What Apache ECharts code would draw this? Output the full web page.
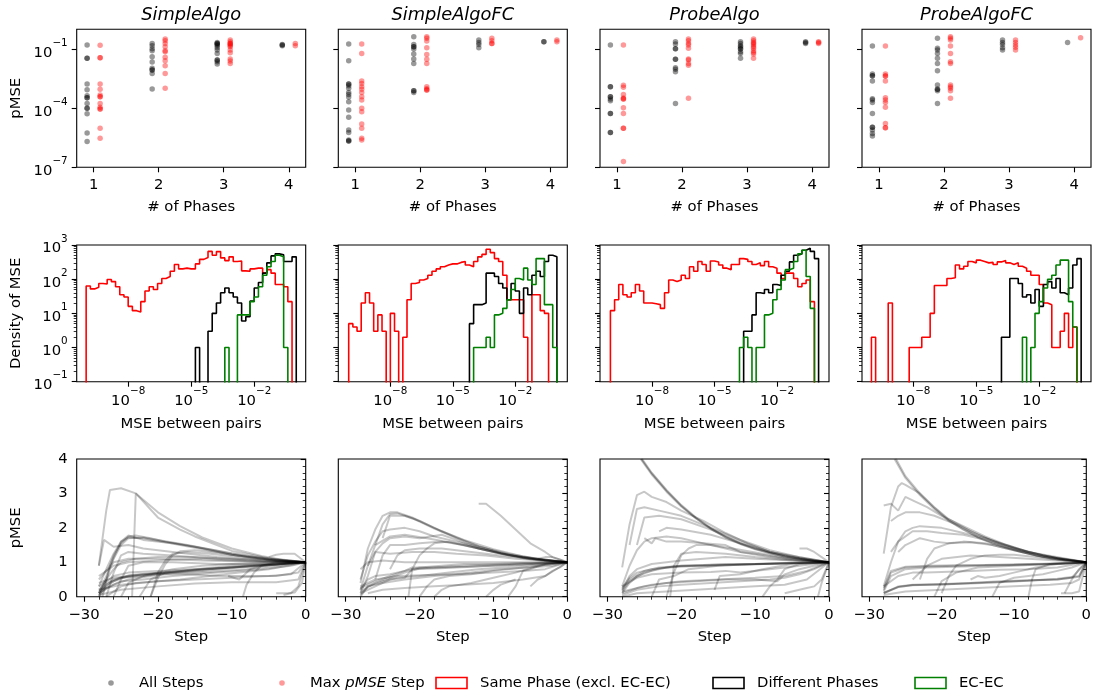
<!DOCTYPE html>
<html><head><meta charset="utf-8">
<script src="https://cdn.jsdelivr.net/npm/echarts@6/dist/echarts.min.js"></script>
<style>html,body{margin:0;padding:0;background:#fff}#c{width:1094px;height:697px}</style>
</head><body><div id="c"></div>
<script>
// ================= DATA =================
const panelNames = ['SimpleAlgo', 'SimpleAlgoFC', 'ProbeAlgo', 'ProbeAlgoFC'];
const phases = [1, 2, 3, 4];
const phaseTickLabels = [1, 2, 3, 4];

// Row 1: log10(pMSE) of points, per phase (1..4)
const allSteps_SimpleAlgo = [
  [-0.76,-1.44,-1.44,-2.75,-3.04,-3.35,-3.45,-3.45,-3.74,-3.99,-3.99,-4.27,-5.25,-5.68],
  [-0.68,-0.80,-0.95,-1.05,-1.36,-1.63,-1.95,-2.04,-2.04,-2.21,-3.01],
  [-0.63,-0.68,-0.68,-0.74,-0.80,-0.90,-1.02,-1.19,-1.53,-1.53,-1.61,-1.73],
  [-0.73,-0.80,-0.76]
];
const maxStep_SimpleAlgo = [
  [-0.78,-1.41,-1.41,-2.75,-3.02,-3.31,-3.40,-3.40,-3.74,-3.94,-4.03,-4.03,-5.01,-5.52],
  [-0.46,-0.54,-0.68,-0.85,-1.05,-1.10,-1.39,-1.56,-1.82,-2.21,-2.97],
  [-0.51,-0.59,-0.68,-0.68,-0.73,-0.80,-0.85,-1.02,-1.15,-1.48,-1.58,-1.70],
  [-0.69,-0.80]
];
const allSteps_SimpleAlgoFC = [
  [-0.71,-1.56,-2.75,-2.75,-2.84,-2.97,-3.18,-3.28,-3.41,-3.65,-4.08,-4.45,-5.10,-5.22,-5.61,-5.66,-5.66],
  [-0.34,-0.73,-0.85,-0.85,-0.97,-1.22,-1.48,-1.70,-3.09,-3.09,-3.18],
  [-0.51,-0.63,-0.73,-0.90],
  [-0.59,-0.59]
];
const maxStep_SimpleAlgoFC = [
  [-0.71,-1.19,-2.60,-2.73,-2.89,-3.02,-3.18,-3.40,-3.57,-3.99,-4.16,-4.79,-5.01,-5.52,-5.61],
  [-0.34,-0.42,-0.56,-0.90,-1.24,-1.49,-1.70,-2.89,-2.99,-3.06,-3.06],
  [-0.42,-0.54,-0.68,-0.68],
  [-0.51,-0.59]
];
const allSteps_ProbeAlgo = [
  [-0.76,-2.89,-2.89,-3.40,-3.40,-3.52,-3.60,-4.25,-4.25,-5.23,-5.23],
  [-0.59,-0.71,-0.95,-0.95,-1.49,-1.49,-1.92,-2.00,-2.12,-3.74],
  [-0.59,-0.68,-0.80,-0.85,-0.95,-0.95,-1.10,-1.19,-1.44],
  [-0.59,-0.68,-0.63]
];
const maxStep_ProbeAlgo = [
  [-0.76,-2.82,-2.92,-3.28,-3.47,-3.52,-3.52,-3.96,-4.25,-5.01,-5.01,-6.71],
  [-0.46,-0.54,-0.68,-0.76,-0.93,-1.48,-1.53,-1.70,-1.80,-3.48],
  [-0.46,-0.54,-0.63,-0.68,-0.76,-0.85,-0.93,-1.05,-1.14,-1.22,-1.44],
  [-0.59,-0.68,-0.63]
];
const allSteps_ProbeAlgoFC = [
  [-0.81,-2.24,-2.33,-2.33,-2.60,-3.50,-3.57,-3.69,-4.25,-4.96,-4.96,-5.10,-5.27,-5.40],
  [-0.42,-0.93,-1.02,-1.19,-1.44,-1.70,-2.07,-2.80,-3.02,-3.02,-3.09,-3.74],
  [-0.51,-0.63,-0.73,-0.90,-1.02],
  [-0.63]
];
const maxStep_ProbeAlgoFC = [
  [-0.81,-2.24,-2.34,-2.34,-2.60,-3.45,-3.57,-3.69,-3.94,-4.76,-4.98,-4.98],
  [-0.34,-0.42,-0.51,-0.81,-1.19,-1.61,-1.70,-2.80,-2.89,-2.97,-3.09,-3.48],
  [-0.51,-0.63,-0.76,-0.88,-1.02],
  [-0.39]
];

// Row 2: histogram densities, 50 log-spaced bins from 1e-10, width 0.2 decade
const binLog10Start = -10;
const binLog10Width = 0.2;
const samePhase_SimpleAlgo = [63,52,58,75,72,98,85,60,35,30, 16,12,11,22,45,60,50,75,105,120,
  170,270,200,210,200,200,280,380,430,650, 500,640,420,350,450,330,340,175,170,200,
  210,210,150,190,150,70,70,60,22,0];
const diffPhase_SimpleAlgo = [0,0,0,0,0,0,0,0,0,0, 0,0,0,0,0,0,0,0,0,0, 0,0,0,0,0,0,1,0,0,3,
  10,20,40,55,40,30,20,6,8,23, 55,80,150,300,480,550,520,330,330,450];
const ecec_SimpleAlgo = [0,0,0,0,0,0,0,0,0,0, 0,0,0,0,0,0,0,0,0,0, 0,0,0,0,0,0,0,0,0,0,
  0,0,0,1,0,0,9,9,9,22, 30,60,130,230,330,500,450,1,0,0];

const samePhase_SimpleAlgoFC = [5,4,3,20,40,20,3,9,3,0, 10,3,0,2,25,75,80,95,105,130,
  170,200,230,260,280,280,310,330,260,230, 330,450,530,750,600,400,330,130,25,25,
  25,25,2,0,35,35,12,10,0,0];
const diffPhase_SimpleAlgoFC = [0,0,0,0,0,0,0,0,0,0, 0,0,0,0,0,0,0,0,0,0, 0,0,0,0,0,0,0,0,0,5,
  18,18,20,150,150,120,75,55,25,75, 45,10,55,35,130,170,120,330,500,450];
const ecec_SimpleAlgoFC = [0,0,0,0,0,0,0,0,0,0, 0,0,0,0,0,0,0,0,0,0, 0,0,0,0,0,0,0,0,0,0,
  1,1,1,2,1,9,10,14,25,50, 105,95,210,95,70,400,400,18,18,1];

const samePhase_ProbeAlgo = [12,25,70,35,30,40,70,45,20,20, 19,18,14,40,95,85,95,130,105,230,
  170,330,270,170,340,320,260,210,190,270, 270,400,380,330,270,300,250,330,230,210,
  150,105,150,150,105,60,75,95,22,0];
const diffPhase_ProbeAlgo = [0,0,0,0,0,0,0,0,0,0, 0,0,0,0,0,0,0,0,0,0, 0,0,0,0,0,0,0,0,0,0,
  0,0,3,3,9,40,38,50,40,70, 65,130,170,320,500,550,700,800,650,400];
const ecec_ProbeAlgo = [0,0,0,0,0,0,0,0,0,0, 0,0,0,0,0,0,0,0,0,0, 0,0,0,0,0,0,0,0,0,0,
  0,1,2,1,0,1,1,9,10,25, 50,95,190,210,330,550,700,120,14,0];

const samePhase_ProbeAlgoFC = [2,0,0,0,20,0,0,0,0,1, 1,1,2,2,10,65,65,65,105,110,
  260,200,240,330,300,360,330,300,310,270, 320,350,300,270,300,240,210,170,130,130,
  70,20,18,1,1,3,10,1,4,0];
const diffPhase_ProbeAlgoFC = [0,0,0,0,0,0,0,0,0,0, 0,0,0,0,0,0,0,0,0,0, 0,0,0,0,0,0,0,0,0,0,
  0,2,2,105,105,75,30,35,20,50, 16,70,85,55,105,40,35,55,260,400];
const ecec_ProbeAlgoFC = [0,0,0,0,0,0,0,0,0,0, 0,0,0,0,0,0,0,0,0,0, 0,0,0,0,0,0,0,0,0,0,
  0,0,0,0,0,0,2,0,1,10, 22,55,100,130,260,360,360,22,4,0];

// Row 3: pMSE trajectories [step, pMSE]
const steps_SimpleAlgo = [
  [[-28,0.9],[-27,2.5],[-26.5,3.1],[-25,3.15],[-23,3.0],[-20,2.45],[-17,2.05],[-14,1.72],[-10,1.4],[-6,1.18],[-3,1.07],[0,1]],
  [[-23.5,0],[-23,3.0],[-20,2.3],[-17,1.95],[-15,1.75],[-10,1.33],[-5,1.12],[0,1]],
  [[-28,0.1],[-27,0.6],[-26,1.2],[-25,1.55],[-24,1.75],[-23,1.78],[-21,1.7],[-19,1.6],[-15,1.45],[-10,1.22],[-5,1.08],[0,1]],
  [[-28,0],[-27,0.5],[-26,1.1],[-25,1.5],[-24,1.7],[-22,1.72],[-20,1.65],[-16,1.5],[-10,1.25],[-5,1.1],[0,1]],
  [[-27.5,0],[-26.5,0.9],[-25,1.6],[-24,1.78],[-22,1.65],[-18,1.55],[-13,1.38],[-8,1.18],[-3,1.05],[0,1]],
  [[-28,0.3],[-27,0.8],[-26,1.25],[-25,1.6],[-24,1.72],[-22,1.7],[-19,1.58],[-15,1.42],[-10,1.22],[-5,1.08],[0,1]],
  [[-28,0.9],[-27.3,1.65],[-26,1.45],[-24,1.5],[-22,1.4],[-18,1.3],[-12,1.15],[-6,1.05],[0,1]],
  [[-21,0],[-20,0.55],[-19,0.95],[-18,1.2],[-17,1.32],[-15,1.35],[-12,1.28],[-8,1.15],[-4,1.05],[0,1]],
  [[-21,0],[-20,0.7],[-19,1.05],[-18,1.25],[-16,1.3],[-13,1.25],[-9,1.15],[-4,1.04],[0,1]],
  [[-27,0],[-26,0.7],[-25,1.2],[-24,1.3],[-22,1.25],[-18,1.2],[-12,1.1],[-6,1.03],[0,1]],
  [[-28,0.5],[-26,1.0],[-24,1.1],[-20,1.1],[-14,1.05],[-8,1.02],[0,1]],
  [[-28,0.3],[-26,0.6],[-24,0.7],[-20,0.75],[-15,0.8],[-10,0.85],[-5,0.92],[0,1]],
  [[-28,0.1],[-26,0.45],[-24,0.6],[-22,0.65],[-18,0.7],[-14,0.78],[-8,0.88],[-3,0.95],[0,1]],
  [[-28,0.15],[-26,0.5],[-24,0.62],[-21,0.68],[-17,0.74],[-12,0.82],[-7,0.9],[-2,0.97],[0,1]],
  [[-28,0.05],[-27,0.35],[-25,0.55],[-22,0.62],[-18,0.7],[-14,0.75],[-9,0.85],[-4,0.93],[0,1]],
  [[-28,0.1],[-26,0.35],[-24,0.5],[-21,0.6],[-18,0.68],[-13,0.72],[-8,0.8],[-4,0.9],[0,1]],
  [[-28,0.4],[-26,0.55],[-23,0.62],[-19,0.7],[-15,0.78],[-11,0.85],[-7,0.92],[-3,0.97],[0,1]],
  [[-28,0],[-27,0.25],[-25,0.45],[-22,0.5],[-18,0.6],[-12,0.7],[-6,0.8],[-2,0.9],[0,1]],
  [[-28,0.2],[-25,0.35],[-20,0.45],[-15,0.5],[-10,0.55],[-5,0.6],[-2,0.65],[0,1]],
  [[-28,0.05],[-25,0.2],[-20,0.3],[-15,0.38],[-10,0.42],[-4,0.42],[-1,0.5],[0,1]],
  [[-27,0],[-25,0.3],[-23,0.4],[-20,0.45],[-17,0.5],[-13,0.6],[-9,0.7],[-5,0.8],[0,1]],
  [[-25,0],[-24,0.4],[-22,0.6],[-18,0.8],[-14,0.9],[-10,0.95],[-5,1.0],[0,1]],
  [[-8.5,0],[-8,0.35],[-7,0.7],[-6,0.9],[-4,1.0],[-2,1.0],[0,1]],
  [[-10.5,0.6],[-9,0.5],[-7.5,0.8],[-6,0.9],[-3,0.95],[0,1]],
  [[-5,1.15],[-4,1.22],[-3,1.25],[-1.5,1.25],[0,1]],
  [[-3,0.05],[-2,0.1],[-1,0.3],[0,1]],
  [[-4,0.1],[-2.5,0.1],[-1.5,0.12],[-0.5,0.4],[0,1]],
  [[-28,0.6],[-26,0.9],[-24,1.0],[-20,1.05],[-15,1.1],[-10,1.05],[-5,1.0],[0,1]],
  [[-28,0.2],[-27,0.4],[-25,0.55],[-22,0.6],[-20,0.65],[-16,0.65],[-12,0.6],[-8,0.6],[-4,0.6],[-1,0.7],[0,1]],
  [[-26,0],[-25,0.5],[-24,0.9],[-22,1.0],[-18,1.0],[-12,0.95],[-6,0.95],[0,1]],
  [[-28,0.1],[-27,0.5],[-26,0.8],[-25,1.0],[-23,1.1],[-20,1.15],[-16,1.15],[-10,1.1],[-4,1.05],[0,1]],
  [[-22.5,0],[-21,0.5],[-19,0.7],[-15,0.8],[-10,0.9],[-5,0.95],[0,1]]
];
const steps_SimpleAlgoFC = [
  [[-28,0.4],[-27,1.4],[-26,1.95],[-25,2.35],[-24,2.45],[-23,2.45],[-21,2.3],[-18,2.0],[-15,1.72],[-12,1.47],[-9,1.27],[-6,1.13],[-3,1.05],[0,1]],
  [[-26,1.5],[-25,2.1],[-24,2.4],[-23,2.42],[-21,2.28],[-18,1.98],[-15,1.7],[-12,1.45],[-9,1.26],[-6,1.12],[-3,1.04],[0,1]],
  [[-25,1.7],[-24,2.35],[-22,2.35],[-20,2.2],[-17,1.9],[-14,1.65],[-10,1.38],[-6,1.17],[-3,1.06],[0,1]],
  [[-12,2.7],[-11,2.7],[-9,2.35],[-7,1.95],[-5,1.55],[-3,1.3],[-2,1.15],[0,1]],
  [[-28,0.5],[-27,1.2],[-26,1.6],[-25,1.9],[-24,1.95],[-22,2.0],[-20,1.9],[-18,1.75],[-15,1.6],[-12,1.45],[-8,1.25],[-4,1.1],[0,1]],
  [[-28,0.1],[-27,0.6],[-26,1.3],[-25,1.55],[-24,1.7],[-22,1.75],[-20,1.7],[-17,1.8],[-15,1.65],[-12,1.4],[-8,1.2],[-4,1.1],[0,1]],
  [[-27,0.9],[-26,1.5],[-24,1.75],[-22,1.8],[-19,1.7],[-16,1.58],[-12,1.4],[-8,1.22],[-4,1.08],[0,1]],
  [[-26,0.5],[-25,1.2],[-24,1.5],[-22,1.5],[-20,1.55],[-17,1.6],[-14,1.5],[-10,1.3],[-6,1.15],[0,1]],
  [[-28,0.2],[-27,0.9],[-26,1.3],[-24,1.25],[-21,1.3],[-18,1.3],[-15,1.25],[-11,1.2],[-7,1.1],[0,1]],
  [[-21.5,0],[-21,0.8],[-20,1.2],[-19,1.4],[-18,1.55],[-16,1.6],[-13,1.45],[-9,1.25],[-5,1.1],[0,1]],
  [[-28,0.25],[-26,0.45],[-24,0.6],[-22,0.75],[-20,0.85],[-17,0.9],[-14,0.95],[-10,0.95],[-6,0.98],[0,1]],
  [[-28,0.15],[-26,0.4],[-24,0.55],[-22,0.7],[-20,0.82],[-16,0.88],[-12,0.92],[-8,0.95],[-4,0.98],[0,1]],
  [[-28,0.2],[-27,0.5],[-26,0.6],[-24,0.65],[-22,0.75],[-21,0.85],[-17,0.85],[-13,0.88],[-8,0.92],[-4,0.96],[0,1]],
  [[-28,0.1],[-26,0.3],[-24,0.5],[-22,0.55],[-21,0.8],[-18,0.82],[-15,0.85],[-10,0.9],[-5,0.95],[0,1]],
  [[-28,0.05],[-27,0.3],[-25,0.45],[-23,0.55],[-20,0.6],[-16,0.7],[-12,0.8],[-7,0.88],[-3,0.95],[0,1]],
  [[-28,0],[-27,0.3],[-25,0.4],[-22,0.5],[-18,0.6],[-13,0.7],[-9,0.8],[-5,0.85],[-2,0.9],[0,1]],
  [[-28,0.3],[-26,0.5],[-23,0.6],[-20,0.62],[-15,0.65],[-10,0.7],[-6,0.75],[-3,0.8],[0,1]],
  [[-27,0.1],[-25,0.2],[-22,0.25],[-18,0.3],[-14,0.35],[-10,0.4],[-6,0.5],[-3,0.6],[0,1]],
  [[-18,0],[-17,0.2],[-16,0.3],[-13,0.4],[-10,0.55],[-7,0.7],[-4,0.9],[0,1]],
  [[-8,0],[-7,0.3],[-6,0.75],[-5,0.8],[-3,0.95],[0,1]],
  [[-5,0.3],[-4,0.5],[-3,0.6],[-2,0.75],[-1,0.85],[0,1]],
  [[-4,1.1],[-3,1.15],[-2,1.15],[-1,1.08],[0,1]],
  [[-11,0],[-10,0.2],[-9,0.35],[-7,0.5]],
  [[-28,0.8],[-27,1.0],[-25,1.05],[-22,1.0],[-18,1.0],[-12,1.0],[-6,1.0],[0,1]],
  [[-20,0],[-19,0.3],[-18,0.5],[-16,0.6],[-13,0.65],[-10,0.75],[-6,0.85],[-2,0.95],[0,1]],
  [[-24,0.8],[-23,1.2],[-22,1.35],[-20,1.4],[-17,1.4],[-13,1.3],[-9,1.2],[-5,1.1],[0,1]]
];
const steps_ProbeAlgo = [
  [[-25.5,4.0],[-24,3.55],[-22,3.05],[-20,2.62],[-18,2.27],[-16,1.97],[-14,1.72],[-12,1.53],[-10,1.38],[-8,1.26],[-6,1.17],[-4,1.1],[-2,1.04],[0,1]],
  [[-25.4,4.0],[-24,3.58],[-22,3.08],[-20,2.64],[-18,2.28],[-16,1.98],[-14,1.73],[-12,1.54],[-10,1.39],[-8,1.27],[-6,1.17],[-4,1.1],[-2,1.04],[0,1]],
  [[-25.3,4.0],[-24,3.6],[-22,3.1],[-20,2.66],[-18,2.3],[-16,2.0],[-14,1.75],[-12,1.55],[-10,1.4],[-8,1.28],[-6,1.18],[-4,1.1],[-2,1.04],[0,1]],
  [[-28,0.85],[-27,2.1],[-26,2.95],[-25,3.05],[-24,2.9],[-22,2.75],[-20,2.5],[-17,2.2],[-14,1.85],[-11,1.55],[-8,1.3],[-5,1.15],[0,1]],
  [[-27,1.5],[-26,2.55],[-25,2.6],[-23,2.5],[-20,2.35],[-16,2.0],[-12,1.65],[-8,1.35],[-4,1.15],[0,1]],
  [[-26,1.5],[-25,2.3],[-23,2.35],[-20,2.25],[-16,1.95],[-12,1.6],[-8,1.3],[0,1]],
  [[-23,1.9],[-22,2.0],[-20,1.95],[-16,1.8],[-12,1.55],[-8,1.3],[-4,1.12],[0,1]],
  [[-25,1.7],[-24,1.55],[-23.5,1.7],[-22,1.6],[-20,1.6],[-17,1.55],[-14,1.5],[-12,1.3],[-10,1.25],[-6,1.12],[0,1]],
  [[-28,0.3],[-27,0.9],[-26,1.35],[-25,1.6],[-24,1.7],[-22,1.75],[-20,1.7],[-18,1.6],[-15,1.45],[-12,1.3],[-8,1.15],[-4,1.05],[0,1]],
  [[-28,0.2],[-27,0.6],[-26,0.8],[-24,0.95],[-22,1.0],[-20,1.05],[-17,1.1],[-14,1.15],[-10,1.1],[-5,1.05],[0,1]],
  [[-28,0.1],[-27,0.4],[-26,0.6],[-24,0.75],[-22,0.85],[-20,0.9],[-17,0.92],[-14,0.95],[-10,0.95],[-5,0.98],[0,1]],
  [[-28,0.15],[-27,0.45],[-25,0.7],[-23,0.82],[-20,0.88],[-16,0.9],[-12,0.93],[-8,0.96],[-4,0.98],[0,1]],
  [[-28,0.25],[-27,0.55],[-26,0.7],[-24,0.8],[-21,0.88],[-18,0.9],[-14,0.92],[-10,0.94],[-5,0.97],[0,1]],
  [[-28,0.2],[-27,0.5],[-25,0.75],[-23,0.85],[-20,0.9],[-15,0.93],[-10,0.95],[-5,0.98],[0,1]],
  [[-22,0],[-21,0.7],[-20,1.2],[-19,1.4],[-18,1.5],[-16,1.5],[-13,1.4],[-9,1.25],[-5,1.1],[0,1]],
  [[-28,0.3],[-26,0.55],[-24,0.65],[-20,0.7],[-16,0.72],[-14,0.75],[-12,0.7],[-8,0.8],[-4,0.9],[0,1]],
  [[-28,0.05],[-26,0.2],[-23,0.3],[-20,0.35],[-16,0.4],[-12,0.45],[-8,0.5],[-6,0.55],[-4,0.65],[-2,0.8],[0,1]],
  [[-28,0.1],[-26,0.25],[-24,0.35],[-20,0.45],[-15,0.5],[-10,0.55],[-6,0.6],[-3,0.75],[0,1]],
  [[-28,0.15],[-25,0.3],[-22,0.4],[-18,0.45],[-14,0.5],[-10,0.5],[-7,0.45],[-6,0.65],[-4,0.8],[0,1]],
  [[-28,0],[-26,0.1],[-22,0.15],[-18,0.2],[-14,0.25],[-10,0.3],[-6,0.35],[-3,0.5],[0,1]],
  [[-15.5,0.2],[-14.8,0.6],[-12,0.65],[-9,0.8],[-5,0.95],[0,1]],
  [[-24,0],[-23,0.5],[-21,0.6],[-19,0.8],[-15,0.9],[-10,0.95],[0,1]],
  [[-9,0],[-8,0.3],[-7,0.5],[-6,0.8],[-4,0.95],[0,1]],
  [[-4,1.4],[-3,1.4],[-2,1.3],[-1,1.15],[0,1]],
  [[-6,0.1],[-4,0.2],[-3,0.25],[-2,0.3],[-1,0.5],[0,1]],
  [[-1.5,0],[-1,0.4],[0,1]],
  [[-21.5,0],[-21,0.9],[-20,1.25],[-18,1.3],[-14,1.25],[-10,1.15],[-5,1.05],[0,1]]
];
const steps_ProbeAlgoFC = [
  [[-26.5,4.0],[-25,3.45],[-23,2.95],[-21,2.55],[-19,2.2],[-17,1.95],[-15,1.72],[-13,1.55],[-11,1.42],[-9,1.3],[-7,1.2],[-5,1.12],[-3,1.06],[0,1]],
  [[-26.3,4.0],[-25,3.5],[-23,3.0],[-21,2.58],[-19,2.22],[-17,1.96],[-15,1.74],[-13,1.56],[-11,1.43],[-9,1.31],[-7,1.21],[-5,1.12],[-3,1.06],[0,1]],
  [[-28,1.25],[-27,2.6],[-26,3.2],[-25.5,3.3],[-25,3.25],[-23,3.0],[-21,2.6],[-19,2.25],[-16,1.9],[-13,1.62],[-10,1.42],[-6,1.2],[-3,1.08],[0,1]],
  [[-28,2.65],[-27,2.7],[-26,2.5],[-25,2.9],[-24,2.8],[-22,2.6],[-20,2.35],[-17,2.05],[-14,1.75],[-11,1.5],[-8,1.3],[-4,1.12],[0,1]],
  [[-27,2.2],[-26,2.35],[-25,2.45],[-23,2.45],[-21,2.35],[-18,2.1],[-15,1.8],[-12,1.55],[-9,1.35],[-6,1.2],[0,1]],
  [[-28,0.3],[-27,1.0],[-26,1.6],[-25,1.9],[-24,2.0],[-23,2.05],[-20,2.0],[-17,1.85],[-14,1.7],[-11,1.5],[-8,1.3],[-4,1.12],[0,1]],
  [[-27,1.3],[-26,1.6],[-24,1.9],[-22,1.9],[-20,1.85],[-17,1.8],[-14,1.65],[-11,1.45],[-8,1.3],[0,1]],
  [[-26,1.3],[-25,1.5],[-23,1.7],[-21,1.6],[-19,1.55],[-16,1.58],[-13,1.5],[-10,1.35],[-6,1.15],[0,1]],
  [[-23,0.5],[-22,1.1],[-21,1.4],[-19,1.55],[-17,1.6],[-14,1.55],[-11,1.4],[-7,1.2],[0,1]],
  [[-20,0.1],[-19,0.6],[-18,0.9],[-16,1.1],[-14,1.2],[-12,1.22],[-10,1.22],[-7,1.15],[-4,1.07],[0,1]],
  [[-28,0.2],[-27,0.7],[-25,0.85],[-22,0.88],[-18,0.9],[-14,0.92],[-10,0.93],[-6,0.95],[-2,0.97],[0,1]],
  [[-28,0.15],[-27,0.6],[-25,0.8],[-22,0.85],[-18,0.87],[-14,0.9],[-10,0.92],[-6,0.94],[-2,0.97],[0,1]],
  [[-28,0.25],[-27,0.75],[-25,0.87],[-22,0.9],[-18,0.91],[-14,0.92],[-10,0.94],[-6,0.96],[-2,0.98],[0,1]],
  [[-28,0.1],[-26,0.3],[-24,0.35],[-20,0.35],[-16,0.4],[-12,0.45],[-8,0.48],[-4,0.5],[-2,0.55],[0,1]],
  [[-28,0.12],[-26,0.28],[-24,0.33],[-20,0.36],[-16,0.38],[-12,0.42],[-8,0.46],[-4,0.52],[-1,0.6],[0,1]],
  [[-28,0.1],[-26,0.28],[-24,0.34],[-20,0.37],[-16,0.4],[-12,0.43],[-8,0.47],[-4,0.5],[-1,0.58],[0,1]],
  [[-28,0.05],[-25,0.15],[-20,0.2],[-15,0.25],[-10,0.3],[-5,0.35],[-2,0.4],[-1,0.5],[0,1]],
  [[-28,0.3],[-26,0.6],[-24,0.7],[-22,0.7],[-20,0.72],[-16,0.75],[-12,0.78],[-8,0.8],[-4,0.85],[0,1]],
  [[-16,0.5],[-15,0.6],[-14,0.55],[-12,0.6],[-10,0.7],[-7,0.85],[-4,0.95],[0,1]],
  [[-13,0],[-12,0.4],[-10,0.55],[-8,0.6],[-6,0.65],[-4,0.75],[-2,0.85],[0,1]],
  [[-8,0],[-7.5,0.5],[-7,0.8],[-5,0.95],[0,1]],
  [[-3,0.1],[-2,0.5],[-1,0.8],[0,1]],
  [[-21,0],[-20,0.45],[-18,0.7],[-15,0.85],[-10,0.9],[-5,0.95],[0,1]],
  [[-24,0.5],[-22,0.9],[-20,1.1],[-16,1.2],[-12,1.15],[-8,1.1],[-4,1.05],[0,1]],
  [[-3.5,0.1],[-2,0.1],[-1,0.15],[0,1]]
];

const scatterAll = [allSteps_SimpleAlgo, allSteps_SimpleAlgoFC, allSteps_ProbeAlgo, allSteps_ProbeAlgoFC];
const scatterMax = [maxStep_SimpleAlgo, maxStep_SimpleAlgoFC, maxStep_ProbeAlgo, maxStep_ProbeAlgoFC];
const histSame = [samePhase_SimpleAlgo, samePhase_SimpleAlgoFC, samePhase_ProbeAlgo, samePhase_ProbeAlgoFC];
const histDiff = [diffPhase_SimpleAlgo, diffPhase_SimpleAlgoFC, diffPhase_ProbeAlgo, diffPhase_ProbeAlgoFC];
const histEcec = [ecec_SimpleAlgo, ecec_SimpleAlgoFC, ecec_ProbeAlgo, ecec_ProbeAlgoFC];
const stepLines = [steps_SimpleAlgo, steps_SimpleAlgoFC, steps_ProbeAlgo, steps_ProbeAlgoFC];

const row1YTicks = [1e-7, 1e-4, 1e-1];
const row2YTicks = [1e-1, 1e0, 1e1, 1e2, 1e3];
const row2YMinor = [0.2,0.3,0.4,0.5,0.6,0.7,0.8,0.9,2,3,4,5,6,7,8,9,20,30,40,50,60,70,80,90,200,300,400,500,600,700,800,900];
const row2XTicks = [1e-8, 1e-5, 1e-2];
const row3XTicks = [-30, -20, -10, 0];
const row3XMinor = [-28,-26,-24,-22,-18,-16,-14,-12,-8,-6,-4,-2];

// ================= LAYOUT / STYLE =================
const FONT = 'DejaVu Sans';
const FS = 14.8;
const colLeft = [76.7, 338.3, 600, 862];
const colW = 229;
const rowTop = [29.3, 245, 459];
const rowH = [138, 136.7, 137.7];

const grids = [], xAxes = [], yAxes = [], series = [];
const lineSt = {color: '#000', width: 1.1};
function supFmt(v) {
  const e = Math.round(Math.log10(v));
  return '{b|10}{s|' + (e < 0 ? '\u2212' : '') + Math.abs(e) + '}';
}
const supRich = {
  b: {fontSize: FS, fontFamily: FONT, color: '#000', lineHeight: 22, verticalAlign: 'bottom'},
  s: {fontSize: 10.4, fontFamily: FONT, color: '#000', lineHeight: 12, verticalAlign: 'top'}
};
function minusFmt(v) { return (v < 0 ? '\u2212' : '') + Math.abs(v); }

function addGrid(r, c) {
  grids.push({left: colLeft[c], top: rowTop[r], width: colW, height: rowH[r],
    show: true, borderColor: '#000', borderWidth: 1.1, backgroundColor: 'rgba(0,0,0,0)'});
  return grids.length - 1;
}

for (let c = 0; c < 4; c++) {
  // ---- row 1 ----
  let g = addGrid(0, c);
  let xi = xAxes.length, yi = yAxes.length;
  xAxes.push({type: 'value', gridIndex: g, min: 0.74, max: 4.26, position: 'bottom',
    axisLine: {show: false}, splitLine: {show: false},
    axisTick: {show: true, length: 5, lineStyle: lineSt, customValues: phases},
    axisLabel: {show: true, customValues: phaseTickLabels, color: '#000', fontFamily: FONT, fontSize: FS, margin: 10},
    name: '# of Phases', nameLocation: 'middle', nameGap: 32,
    nameTextStyle: {color: '#000', fontFamily: FONT, fontSize: FS}});
  yAxes.push({type: 'log', logBase: 10, gridIndex: g, min: 1e-7, max: Math.pow(10, 0.04), position: 'left',
    axisLine: {show: false}, splitLine: {show: false}, minorTick: {show: false},
    axisTick: {show: true, length: 5, lineStyle: lineSt, customValues: row1YTicks},
    axisLabel: {show: c === 0, customValues: row1YTicks, formatter: supFmt, rich: supRich, margin: 9},
    name: c === 0 ? 'pMSE' : '', nameLocation: 'middle', nameGap: 53, nameRotate: 90,
    nameTextStyle: {color: '#000', fontFamily: FONT, fontSize: FS}});
  const mk = (arr, off, color, name) => {
    const data = [];
    arr.forEach((vals, p) => vals.forEach(e => data.push([phases[p] + off, Math.pow(10, e)])));
    series.push({type: 'scatter', name, xAxisIndex: xi, yAxisIndex: yi, data, symbolSize: 5.5,
      itemStyle: {color, opacity: 1}, silent: true});
  };
  mk(scatterAll[c], -0.1, 'rgba(0,0,0,0.4)', 'All Steps');
  mk(scatterMax[c], 0.1, 'rgba(255,0,0,0.4)', 'Max pMSE Step');

  // ---- row 2 ----
  g = addGrid(1, c);
  xi = xAxes.length; yi = yAxes.length;
  const xmin = [-10.45, -10.5, -10.5, -10.45][c], xmax = [0.45, 0.5, 0.5, 0.47][c];
  xAxes.push({type: 'log', logBase: 10, gridIndex: g, min: Math.pow(10, xmin), max: Math.pow(10, xmax), position: 'bottom',
    axisLine: {show: false}, splitLine: {show: false}, minorTick: {show: false},
    axisTick: {show: true, length: 5, lineStyle: lineSt, customValues: row2XTicks},
    axisLabel: {show: true, customValues: row2XTicks, formatter: supFmt, rich: supRich, margin: 5},
    name: 'MSE between pairs', nameLocation: 'middle', nameGap: 35,
    nameTextStyle: {color: '#000', fontFamily: FONT, fontSize: FS}});
  yAxes.push({type: 'log', logBase: 10, gridIndex: g, min: 0.1, max: 1000, position: 'left',
    axisLine: {show: false}, splitLine: {show: false}, minorTick: {show: false},
    axisTick: {show: true, length: 5, lineStyle: lineSt, customValues: row2YTicks},
    axisLabel: {show: c === 0, customValues: row2YTicks, formatter: supFmt, rich: supRich, margin: 9},
    name: c === 0 ? 'Density of MSE' : '', nameLocation: 'middle', nameGap: 53, nameRotate: 90,
    nameTextStyle: {color: '#000', fontFamily: FONT, fontSize: FS}});
  yAxes.push({type: 'log', logBase: 10, gridIndex: g, min: 0.1, max: 1000, position: 'left',
    axisLine: {show: false}, splitLine: {show: false}, minorTick: {show: false},
    axisTick: {show: true, length: 3, lineStyle: {color: '#000', width: 0.8}, customValues: row2YMinor},
    axisLabel: {show: false}});
  const hist = (counts, color, name) => {
    const tiny = 1e-4;
    const data = [[Math.pow(10, binLog10Start), tiny]];
    counts.forEach((v, i) => data.push([Math.pow(10, binLog10Start + i * binLog10Width), v > 0 ? v : tiny]));
    data.push([Math.pow(10, binLog10Start + counts.length * binLog10Width), tiny]);
    series.push({type: 'line', name, xAxisIndex: xi, yAxisIndex: yi, data, step: 'end',
      showSymbol: false, symbol: 'none', clip: true, silent: true,
      lineStyle: {color, width: 1.6}});
  };
  hist(histSame[c], '#ff0000', 'Same Phase (excl. EC-EC)');
  hist(histDiff[c], '#000000', 'Different Phases');
  hist(histEcec[c], '#008000', 'EC-EC');

  // ---- row 3 ----
  g = addGrid(2, c);
  xi = xAxes.length; yi = yAxes.length;
  xAxes.push({type: 'value', gridIndex: g, min: -31, max: 0, position: 'bottom',
    axisLine: {show: false}, splitLine: {show: false},
    axisTick: {show: true, length: 5, lineStyle: lineSt, customValues: row3XTicks},
    axisLabel: {show: true, customValues: row3XTicks, formatter: minusFmt, color: '#000', fontFamily: FONT, fontSize: FS, margin: 11},
    name: 'Step', nameLocation: 'middle', nameGap: 33,
    nameTextStyle: {color: '#000', fontFamily: FONT, fontSize: FS}});
  xAxes.push({type: 'value', gridIndex: g, min: -31, max: 0, position: 'bottom',
    axisLine: {show: false}, splitLine: {show: false},
    axisTick: {show: true, length: 3, lineStyle: {color: '#000', width: 0.8}, customValues: row3XMinor},
    axisLabel: {show: false}});
  yAxes.push({type: 'value', gridIndex: g, min: 0, max: 4, interval: 1, position: 'left',
    axisLine: {show: false}, splitLine: {show: false},
    axisTick: {show: true, length: 5, lineStyle: lineSt},
    minorTick: {show: true, splitNumber: 5, length: 3, lineStyle: {color: '#000', width: 0.8}},
    axisLabel: {show: c === 0, color: '#000', fontFamily: FONT, fontSize: FS, margin: 9},
    name: c === 0 ? 'pMSE' : '', nameLocation: 'middle', nameGap: 53, nameRotate: 90,
    nameTextStyle: {color: '#000', fontFamily: FONT, fontSize: FS}});
  stepLines[c].forEach(pts => {
    series.push({type: 'line', xAxisIndex: xi, yAxisIndex: yi, data: pts, showSymbol: false, symbol: 'none',
      clip: true, silent: true, lineStyle: {color: 'rgba(0,0,0,0.22)', width: 2}});
  });
}

// ---- titles and legend as graphics ----
const graphics = [];
panelNames.forEach((t, c) => graphics.push({type: 'text', x: colLeft[c] + colW / 2, y: 15,
  style: {text: t, fill: '#000', font: 'italic 17.8px "DejaVu Sans"', align: 'center', verticalAlign: 'middle'}}));
const LY = 683;
graphics.push({type: 'circle', shape: {cx: 111, cy: LY, r: 2.8}, style: {fill: 'rgba(0,0,0,0.4)'}});
graphics.push({type: 'text', x: 139, y: LY, style: {text: 'All Steps', fill: '#000', font: FS + 'px "DejaVu Sans"', align: 'left', verticalAlign: 'middle'}});
graphics.push({type: 'circle', shape: {cx: 282, cy: LY, r: 2.8}, style: {fill: 'rgba(255,0,0,0.4)'}});
graphics.push({type: 'text', x: 310, y: LY, style: {text: '{n|Max }{i|pMSE}{n| Step}', verticalAlign: 'middle', align: 'left',
  rich: {n: {fontFamily: FONT, fontSize: FS, fill: '#000'}, i: {fontFamily: FONT, fontSize: FS, fontStyle: 'italic', fill: '#000'}}}});
const legendBoxes = [[436, '#ff0000', 'Same Phase (excl. EC-EC)'], [713, '#000000', 'Different Phases'], [915, '#008000', 'EC-EC']];
legendBoxes.forEach(([x, col, txt]) => {
  graphics.push({type: 'rect', shape: {x: x, y: LY - 5.5, width: 31, height: 11}, style: {fill: 'none', stroke: col, lineWidth: 1.6}});
  graphics.push({type: 'text', x: x + 44, y: LY, style: {text: txt, fill: '#000', font: FS + 'px "DejaVu Sans"', align: 'left', verticalAlign: 'middle'}});
});

const chart = echarts.init(document.getElementById('c'), null, {renderer: 'canvas'});
chart.setOption({
  animation: false,
  backgroundColor: '#fff',
  textStyle: {fontFamily: FONT},
  grid: grids, xAxis: xAxes, yAxis: yAxes, series, graphic: graphics
});
</script></body></html>
